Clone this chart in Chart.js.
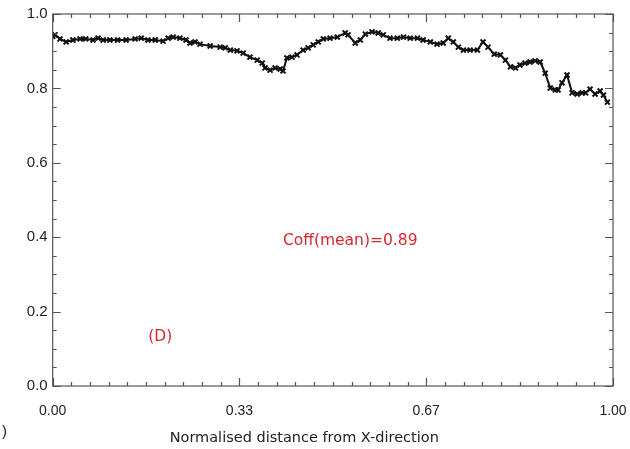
<!DOCTYPE html>
<html>
<head>
<meta charset="utf-8">
<script src="https://cdn.jsdelivr.net/npm/chart.js@4.4.1/dist/chart.umd.min.js"></script>
<style>
  html, body { margin: 0; padding: 0; background: #fff; }
  #wrap { width: 630px; height: 449px; position: relative; }
</style>
</head>
<body>
<div id="wrap"><canvas id="c" width="630" height="449"></canvas></div>
<script>
// Normalised distance along the profile
const distance = [
  0.000, 0.004, 0.013, 0.024, 0.036, 0.049, 0.059, 0.072, 0.081, 0.090,
  0.102, 0.116, 0.131, 0.147, 0.158, 0.170, 0.183, 0.197, 0.206, 0.215,
  0.227, 0.238, 0.245, 0.254, 0.263, 0.281, 0.299, 0.308, 0.317, 0.329,
  0.340, 0.352, 0.365, 0.374, 0.379, 0.388, 0.397, 0.406, 0.411, 0.418,
  0.427, 0.436, 0.447, 0.456, 0.465, 0.474, 0.483, 0.495, 0.508, 0.522,
  0.527, 0.540, 0.549, 0.558, 0.570, 0.581, 0.590, 0.602, 0.615, 0.626,
  0.638, 0.651, 0.661, 0.674, 0.686, 0.697, 0.706, 0.715, 0.724, 0.733,
  0.745, 0.758, 0.768, 0.777, 0.788, 0.799, 0.808, 0.817, 0.826, 0.834,
  0.843, 0.852, 0.861, 0.870, 0.879, 0.888, 0.897, 0.902, 0.909, 0.918,
  0.927, 0.936, 0.945, 0.951, 0.959, 0.968, 0.977, 0.983, 0.990
];
// Correlation coefficient at each position
const coefficient = [
  0.940, 0.944, 0.933, 0.925, 0.930, 0.933, 0.933, 0.930, 0.935, 0.930,
  0.930, 0.930, 0.930, 0.933, 0.935, 0.930, 0.930, 0.927, 0.935, 0.938,
  0.935, 0.930, 0.922, 0.925, 0.919, 0.914, 0.911, 0.909, 0.903, 0.901,
  0.895, 0.884, 0.876, 0.868, 0.855, 0.849, 0.855, 0.852, 0.847, 0.882,
  0.884, 0.890, 0.903, 0.909, 0.917, 0.925, 0.933, 0.935, 0.938, 0.949,
  0.944, 0.922, 0.930, 0.946, 0.952, 0.949, 0.944, 0.935, 0.935, 0.938,
  0.935, 0.935, 0.930, 0.925, 0.919, 0.922, 0.935, 0.925, 0.911, 0.903,
  0.903, 0.903, 0.925, 0.911, 0.892, 0.890, 0.876, 0.858, 0.855, 0.863,
  0.868, 0.871, 0.874, 0.871, 0.841, 0.801, 0.796, 0.796, 0.815, 0.836,
  0.788, 0.785, 0.788, 0.788, 0.798, 0.785, 0.793, 0.782, 0.763
];
// Axis tick positions
const xTicks = [0, 1/3, 2/3, 1];
const yTicks = [0, 0.2, 0.4, 0.6, 0.8, 1.0];
const xMinorStep = 1 / 30;
const yMinorStep = 0.05;

const xTitle = 'Normalised distance from X-direction';
const meanLabel = 'Coff(mean)=0.89';
const panelLabel = '(D)';

const points = distance.map((d, i) => ({ x: d, y: coefficient[i] }));

const axisColor = '#555';
const tickFont = '"Liberation Sans", "DejaVu Sans", sans-serif';
const textFont = '"DejaVu Sans", "Liberation Sans", sans-serif';

// Framed box with inward ticks on all four sides, axis title and red annotations
const framePlugin = {
  id: 'frame',
  afterDraw(chart) {
    const { ctx, chartArea: a, scales } = chart;
    const xs = scales.x, ys = scales.y;
    ctx.save();
    ctx.strokeStyle = axisColor;
    ctx.lineWidth = 1.2;
    ctx.strokeRect(a.left, a.top, a.right - a.left, a.bottom - a.top);
    ctx.beginPath();
    // x ticks (bottom and top)
    for (let k = 0; k <= 30; k++) {
      const v = k * xMinorStep;
      const px = Math.round(xs.getPixelForValue(v)) + 0.5;
      const major = k % 10 === 0;
      const len = major ? 8 : 4;
      ctx.moveTo(px, a.bottom); ctx.lineTo(px, a.bottom - len);
      ctx.moveTo(px, a.top); ctx.lineTo(px, a.top + len);
    }
    // y ticks (left and right)
    for (let k = 0; k <= 20; k++) {
      const v = k * yMinorStep;
      const py = Math.round(ys.getPixelForValue(v)) + 0.5;
      const major = k % 4 === 0;
      const len = major ? 8 : 4;
      ctx.moveTo(a.left, py); ctx.lineTo(a.left + len, py);
      ctx.moveTo(a.right, py); ctx.lineTo(a.right - len, py);
    }
    ctx.stroke();

    // x-axis title, set slightly left of the plot centre
    ctx.fillStyle = '#222';
    ctx.font = '14.5px ' + textFont;
    ctx.textAlign = 'center';
    ctx.textBaseline = 'middle';
    ctx.fillText(xTitle, xs.getPixelForValue(0.449), 438);

    ctx.fillStyle = '#d8282f';
    ctx.font = '15.5px ' + textFont;
    ctx.fillText(meanLabel, xs.getPixelForValue(0.531), ys.getPixelForValue(0.39));
    ctx.fillText(panelLabel, xs.getPixelForValue(0.192), ys.getPixelForValue(0.132));

    ctx.fillStyle = '#222';
    ctx.font = '15px ' + tickFont;
    ctx.textAlign = 'left';
    ctx.fillText(')', 2, 432);
    ctx.restore();
  }
};

new Chart(document.getElementById('c'), {
  type: 'scatter',
  data: {
    datasets: [{
      data: points,
      showLine: true,
      borderColor: '#111',
      borderWidth: 2,
      pointStyle: 'crossRot',
      pointRadius: 3.5,
      pointBorderWidth: 2,
      pointBorderColor: '#111',
      pointBackgroundColor: '#111',
      tension: 0
    }]
  },
  options: {
    responsive: false,
    animation: false,
    events: [],
    layout: { padding: { top: 14, right: 17, left: 0, bottom: 0 } },
    plugins: { legend: { display: false }, tooltip: { enabled: false } },
    scales: {
      x: {
        type: 'linear',
        min: 0, max: 1,
        afterBuildTicks: (s) => { s.ticks = xTicks.map(v => ({ value: v })); },
        afterFit: (s) => { s.height = 63; s.paddingLeft = 0; s.paddingRight = 0; },
        ticks: {
          color: '#222',
          font: { family: tickFont, size: 14 },
          padding: 17,
          maxRotation: 0,
          callback: (v) => Number(v).toFixed(2)
        },
        grid: { display: false, drawTicks: false },
        border: { display: false }
      },
      y: {
        type: 'linear',
        min: 0, max: 1,
        afterBuildTicks: (s) => { s.ticks = yTicks.map(v => ({ value: v })); },
        afterFit: (s) => { s.width = 52.7; s.paddingTop = 0; s.paddingBottom = 0; },
        ticks: {
          color: '#222',
          font: { family: tickFont, size: 15 },
          padding: 5,
          callback: (v) => Number(v).toFixed(1)
        },
        grid: { display: false, drawTicks: false },
        border: { display: false }
      }
    }
  },
  plugins: [framePlugin]
});
</script>
</body>
</html>
